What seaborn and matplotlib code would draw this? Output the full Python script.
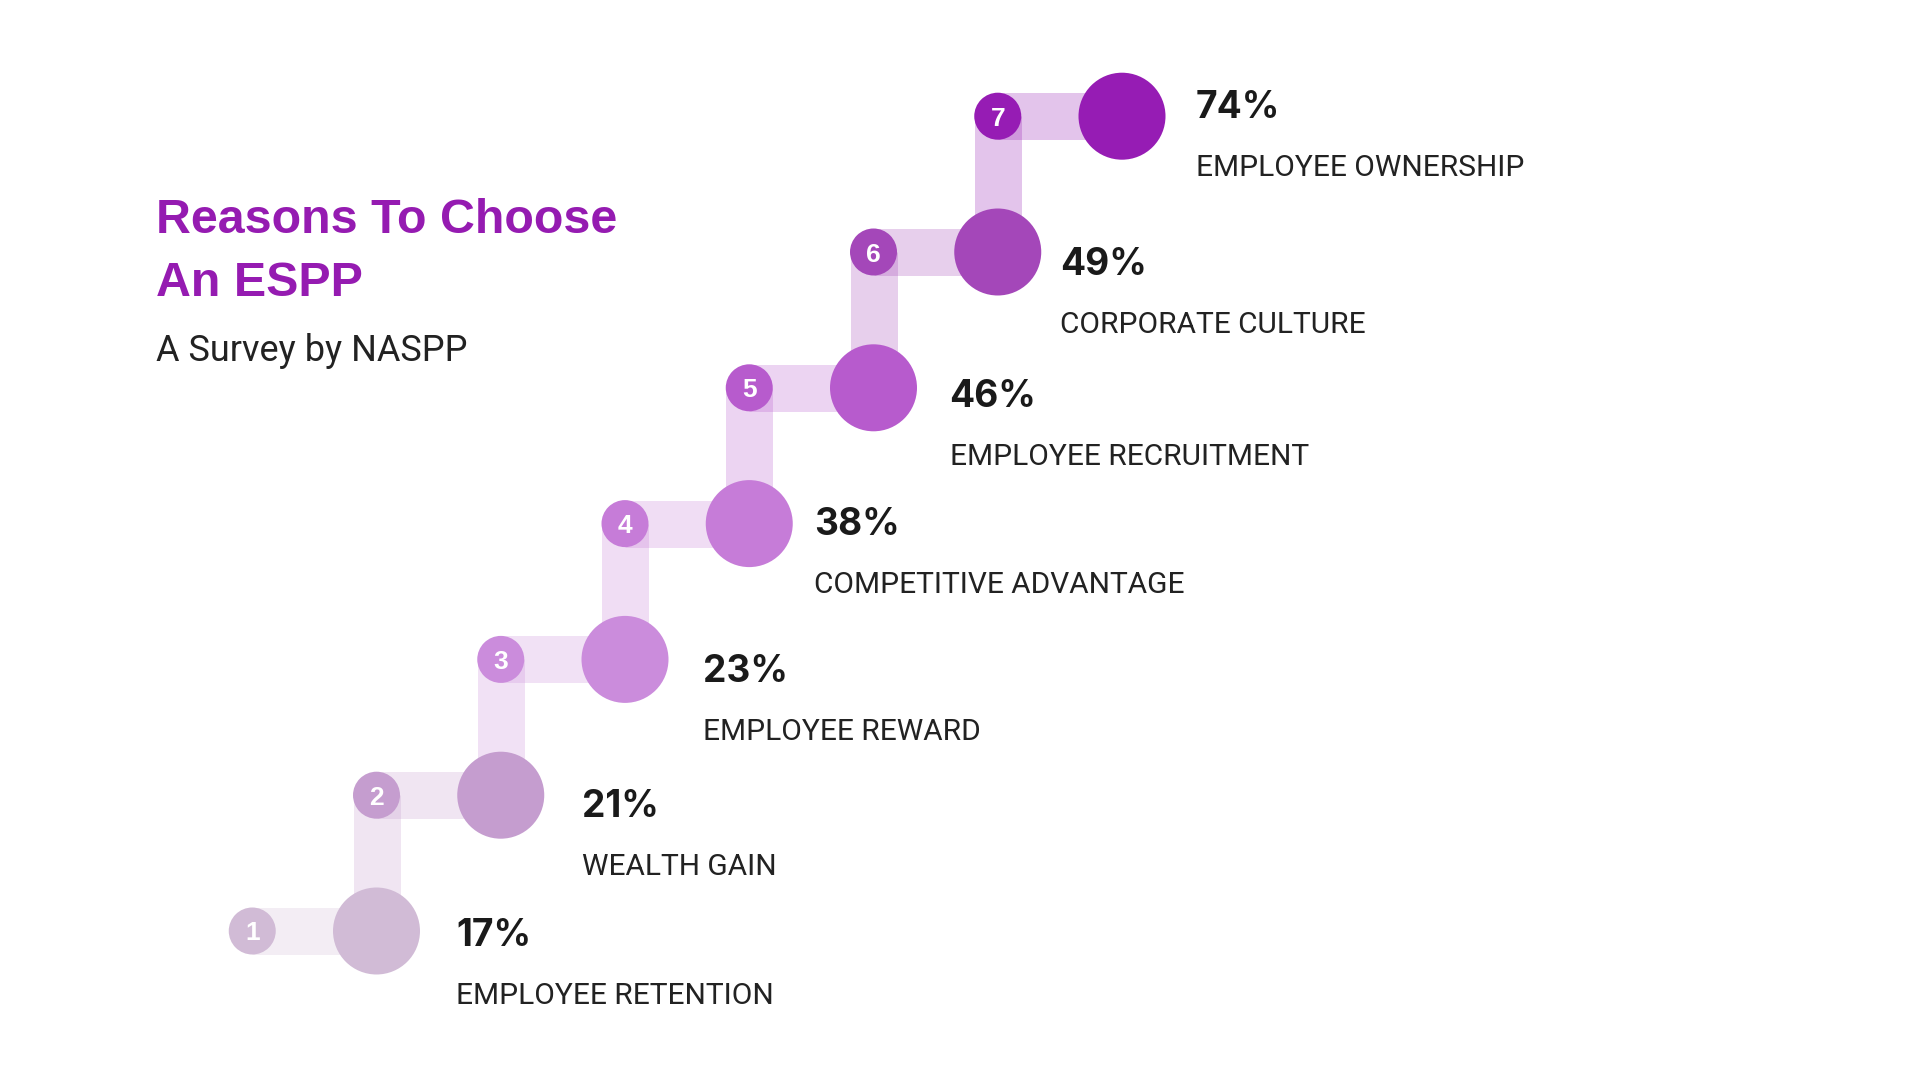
import matplotlib
matplotlib.use("Agg")
import matplotlib.pyplot as plt
import seaborn as sns
import pandas as pd

# ---------------- data ----------------
steps = [1, 2, 3, 4, 5, 6, 7]
percents = [17, 21, 23, 38, 46, 49, 74]
reasons = ["EMPLOYEE RETENTION", "WEALTH GAIN", "EMPLOYEE REWARD",
           "COMPETITIVE ADVANTAGE", "EMPLOYEE RECRUITMENT",
           "CORPORATE CULTURE", "EMPLOYEE OWNERSHIP"]
step_colors = ["#D1BBD6", "#C59DCF", "#CB8CDC", "#C67CD8",
               "#B75BCD", "#A447B9", "#961CB4"]
title_lines = ["Reasons To Choose", "An ESPP"]
subtitle = "A Survey by NASPP"

# ---------------- layout (text nudges in pixels, not data) ----------------
text_dx = [80, 81, 78, 65, 76, 62, 74]
text_dy = [14.5, 22, 23, 11, 19.5, 23, 2]

df = pd.DataFrame({"step": steps, "pct": percents, "reason": reasons})
df["small_x"] = df["step"] - 1

# ---------------- figure ----------------
sns.set_theme(style="white")
plt.rcParams["font.family"] = ["Roboto", "DejaVu Sans"]

DPI = 100
fig = plt.figure(figsize=(19.2, 10.8), dpi=DPI, facecolor="white")
ax = fig.add_axes([0, 0, 1, 1])
ax.set_facecolor("white")
XLIM = (1 - 376.5 / 124.25, 1 + (1920 - 376.5) / 124.25)
YLIM = (1 - 149 / 135.8, 1 + 931 / 135.8)

px = 72.0 / DPI  # points per pixel
band_lw = 47 * px

# connector bands
for s, c in zip(steps, step_colors):
    ax.plot([s - 1, s], [s, s], color=c, alpha=0.26, lw=band_lw,
            solid_capstyle="butt", zorder=1)
    if s > 1:
        ax.plot([s - 1, s - 1], [s, s - 1], color=c, alpha=0.26, lw=band_lw,
                solid_capstyle="butt", zorder=1)

pal = dict(zip(steps, step_colors))
big_d = 87 * px
small_d = 47 * px
sns.scatterplot(data=df, x="step", y="step", hue="step", palette=pal,
                s=big_d ** 2, linewidth=0, legend=False, ax=ax, zorder=3)
sns.scatterplot(data=df, x="small_x", y="step", hue="step", palette=pal,
                s=small_d ** 2, linewidth=0, legend=False, ax=ax, zorder=2)
ax.set_xlabel("")
ax.set_ylabel("")
ax.set_xlim(*XLIM)
ax.set_ylim(*YLIM)
ax.axis("off")

for i, r in df.iterrows():
    s = r["step"]
    # number in small circle
    ax.annotate(str(s), (s - 1, s), xytext=(0, -19 * px / 2), textcoords="offset points",
                ha="center", va="baseline", color="white", fontsize=19,
                fontweight="bold", family=["Liberation Sans", "DejaVu Sans"], zorder=5)
    # percentage
    ax.annotate(f"{r['pct']}%", (s, s), xytext=(text_dx[i] * px, -text_dy[i] * px),
                textcoords="offset points", ha="left", va="baseline",
                color="#1A1A1A", fontsize=26.7, fontweight="bold",
                family=["Inter", "DejaVu Sans"], zorder=5)
    # label
    ax.annotate(r["reason"], (s, s), xytext=(text_dx[i] * px, -(text_dy[i] + 58) * px),
                textcoords="offset points", ha="left", va="baseline",
                color="#222222", fontsize=21.5, fontweight="normal",
                family=["Roboto", "DejaVu Sans"], zorder=5)

# title & subtitle
fig.text(156 / 1920, 1 - 232.7 / 1080, title_lines[0], ha="left", va="baseline",
         color="#951BB1", fontsize=34.8, fontweight="bold",
         family=["Liberation Sans", "DejaVu Sans"])
fig.text(156 / 1920, 1 - 296 / 1080, title_lines[1], ha="left", va="baseline",
         color="#951BB1", fontsize=34.8, fontweight="bold",
         family=["Liberation Sans", "DejaVu Sans"])
fig.text(156 / 1920, 1 - 360.7 / 1080, subtitle, ha="left", va="baseline",
         color="#222222", fontsize=26, fontweight="normal",
         family=["Roboto", "DejaVu Sans"])

fig.savefig("out.png", dpi=DPI, facecolor="white")
